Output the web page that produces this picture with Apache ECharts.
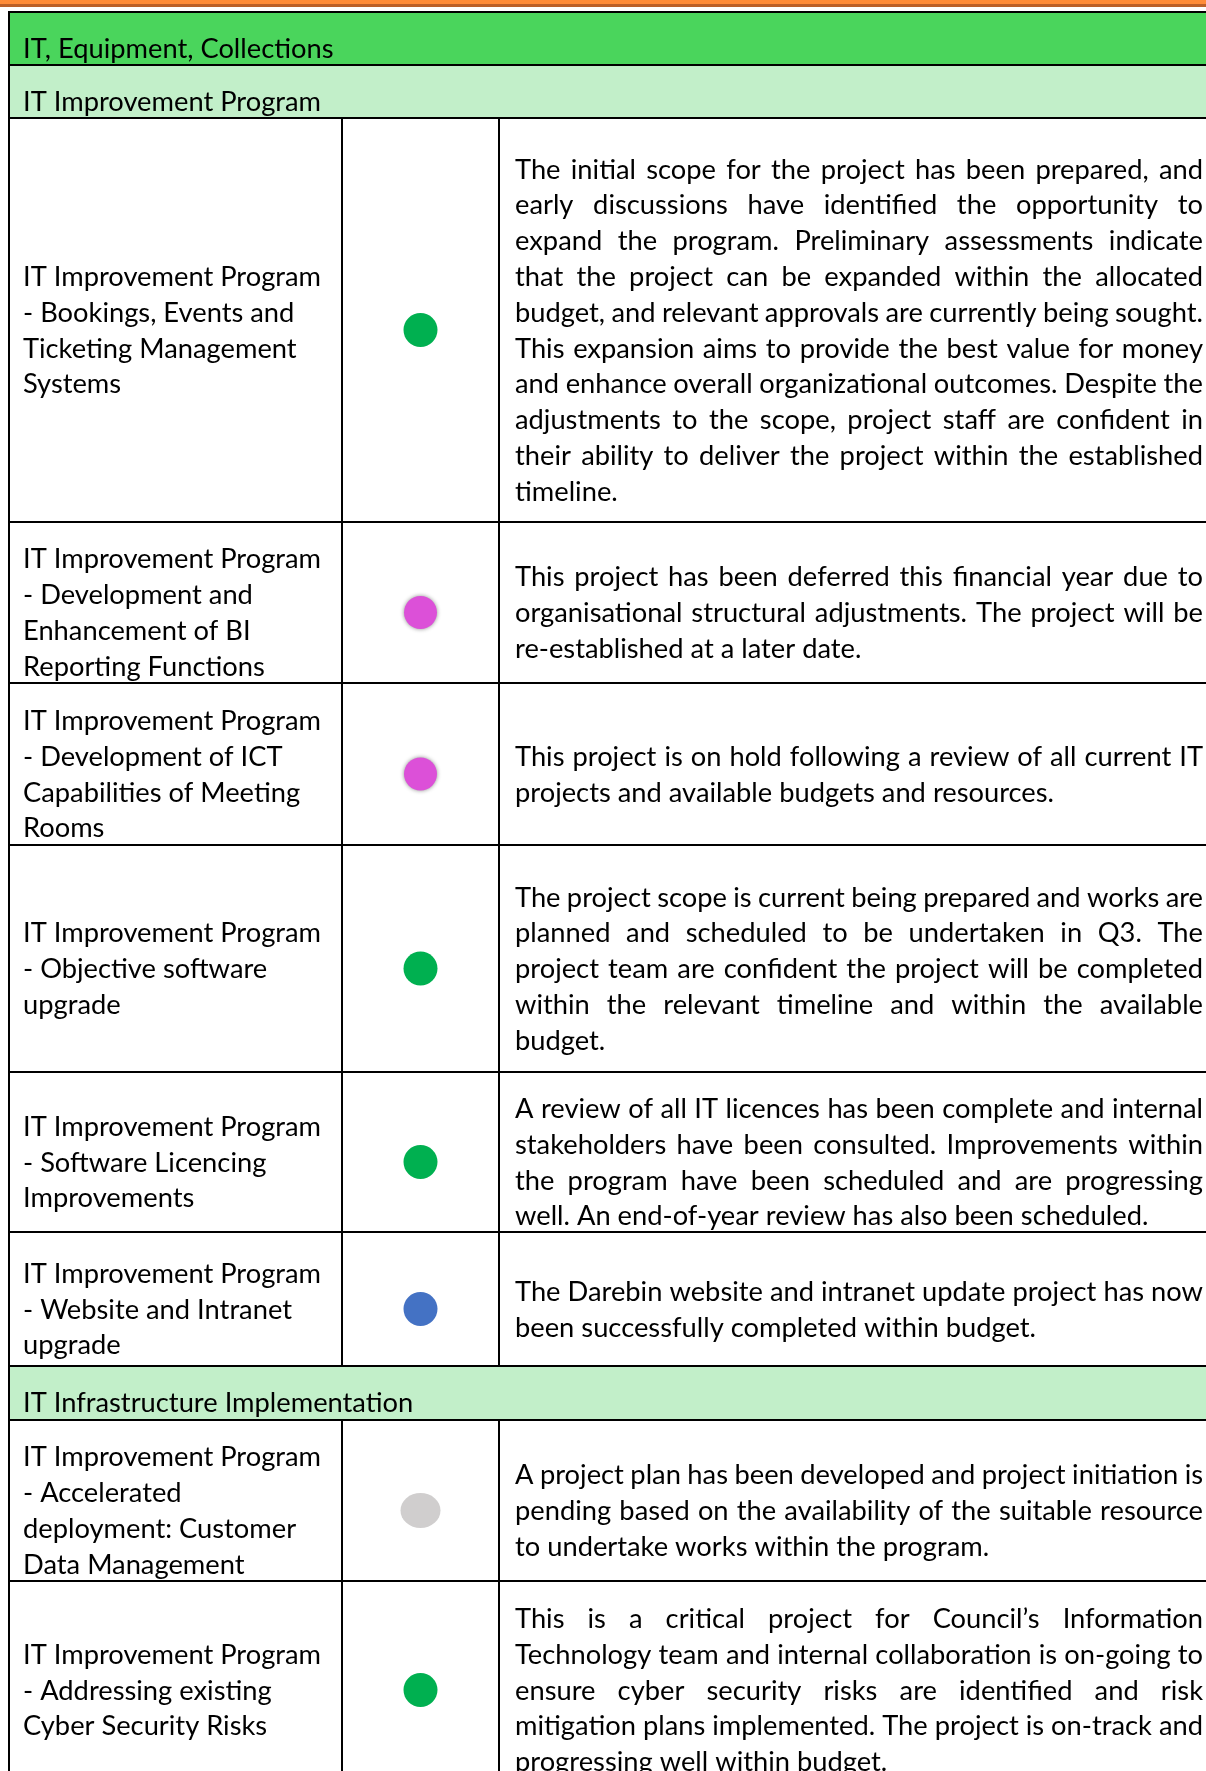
<!DOCTYPE html>
<html><head><meta charset="utf-8">
<script src="https://cdn.jsdelivr.net/npm/echarts@6/dist/echarts.min.js"></script>
<style>html,body{margin:0;padding:0;background:#fff}#c{width:1206px;height:1771px}</style>
</head><body><div id="c"></div>
<script>
// ---------- DATA ----------
const tableTitle = 'IT, Equipment, Collections';
const programNames = ['IT Improvement Program', 'IT Infrastructure Implementation'];
const projectNames = [
  ['IT Improvement Program', '- Bookings, Events and', 'Ticketing Management', 'Systems'],
  ['IT Improvement Program', '- Development and', 'Enhancement of BI', 'Reporting Functions'],
  ['IT Improvement Program', '- Development of ICT', 'Capabilities of Meeting', 'Rooms'],
  ['IT Improvement Program', '- Objective software', 'upgrade'],
  ['IT Improvement Program', '- Software Licencing', 'Improvements'],
  ['IT Improvement Program', '- Website and Intranet', 'upgrade'],
  ['IT Improvement Program', '- Accelerated', 'deployment: Customer', 'Data Management'],
  ['IT Improvement Program', '- Addressing existing', 'Cyber Security Risks']
];
const projectProgram = [0, 0, 0, 0, 0, 0, 1, 1];
const projectStatus = ['On track', 'On hold', 'On hold', 'On track', 'On track', 'Completed', 'Not started', 'On track'];
const projectComments = [
  ['The initial scope for the project has been prepared, and',
   'early discussions have identified the opportunity to',
   'expand the program. Preliminary assessments indicate',
   'that the project can be expanded within the allocated',
   'budget, and relevant approvals are currently being sought.',
   'This expansion aims to provide the best value for money',
   'and enhance overall organizational outcomes. Despite the',
   'adjustments to the scope, project staff are confident in',
   'their ability to deliver the project within the established',
   'timeline.'],
  ['This project has been deferred this financial year due to',
   'organisational structural adjustments. The project will be',
   're-established at a later date.'],
  ['This project is on hold following a review of all current IT',
   'projects and available budgets and resources.'],
  ['The project scope is current being prepared and works are',
   'planned and scheduled to be undertaken in Q3. The',
   'project team are confident the project will be completed',
   'within the relevant timeline and within the available',
   'budget.'],
  ['A review of all IT licences has been complete and internal',
   'stakeholders have been consulted. Improvements within',
   'the program have been scheduled and are progressing',
   'well. An end-of-year review has also been scheduled.'],
  ['The Darebin website and intranet update project has now',
   'been successfully completed within budget.'],
  ['A project plan has been developed and project initiation is',
   'pending based on the availability of the suitable resource',
   'to undertake works within the program.'],
  ['This is a critical project for Council\u2019s Information',
   'Technology team and internal collaboration is on-going to',
   'ensure cyber security risks are identified and risk',
   'mitigation plans implemented. The project is on-track and',
   'progressing well within budget.']
];

// ---------- STYLE / LAYOUT ----------
const STATUS_STYLE = {
  'On track':   { fill: '#00B050', rx: 17, ry: 17 },
  'On hold':    { fill: '#DC50D8', rx: 16.5, ry: 16.5, halo: true },
  'Completed':  { fill: '#4472C4', rx: 17, ry: 17 },
  'Not started':{ fill: '#D0CECE', rx: 20, ry: 17.5 }
};
const ROW_EDGES = [12, 65, 118, 522, 683, 845, 1072, 1232, 1366, 1420, 1581, 1779];
const X_LEFT = 9, X_COL1 = 342, X_COL2 = 499, X_RIGHT = 1206;
const TEXT_X1 = 23, DOT_X = 420.5, TEXT_X3 = 515, TEXT_X3_END = 1203;
const LINE_H = 35.8, TEXT_SHIFT = 10.8, DOT_SHIFT = 10;
const FONT_FAMILY = 'Lato';
const TEXT_COLOR = '#000000';

const mctx = document.createElement('canvas').getContext('2d');
mctx.font = '100px ' + FONT_FAMILY;
const FS = Math.round(100 * 298 / mctx.measureText('IT Improvement Program').width * 10) / 10;
const FONT = FS + 'px ' + FONT_FAMILY;
mctx.font = FONT;
const measure = t => mctx.measureText(t).width;

const tableRows = [{ kind: 'title', text: tableTitle }];
programNames.forEach((p, pi) => {
  tableRows.push({ kind: 'program', text: p });
  projectNames.forEach((n, j) => { if (projectProgram[j] === pi) tableRows.push({ kind: 'project', idx: j }); });
});

function rect(x, y, w, h, fill) {
  return { type: 'rect', shape: { x, y, width: w, height: h }, style: { fill } };
}
function text(t, x, y) {
  return { type: 'text', x, y, style: { text: t, font: FONT, fill: TEXT_COLOR,
    textAlign: 'left', textVerticalAlign: 'middle', align: 'left', verticalAlign: 'middle' } };
}
function justified(line, x0, x1, y, isLast) {
  if (isLast) return [text(line, x0, y)];
  const words = line.split(' ');
  const ws = words.map(measure);
  const total = ws.reduce((a, b) => a + b, 0);
  const gap = (x1 - x0 - total) / (words.length - 1);
  let x = x0;
  return words.map((w, k) => { const el = text(w, x, y); x += ws[k] + gap; return el; });
}

function renderItem(params, api) {
  const i = api.value(0);
  const row = tableRows[i];
  const y0 = api.coord([0, ROW_EDGES[i]])[1];
  const y1 = api.coord([0, ROW_EDGES[i + 1]])[1];
  const px = v => api.coord([v, 0])[0];
  const xL = px(X_LEFT), xR = px(X_RIGHT);
  const mid = (y0 + y1) / 2;
  const ch = [];
  if (row.kind !== 'project') {
    ch.push(rect(xL + 1, y0 + 1, xR - xL, y1 - y0 - 2, row.kind === 'title' ? '#4AD55C' : '#C2EFC9'));
    ch.push(text(row.text, px(TEXT_X1), mid + TEXT_SHIFT - 0.5));
  } else {
    const j = row.idx;
    const names = projectNames[j];
    const tc = mid + TEXT_SHIFT;
    names.forEach((n, k) => ch.push(text(n, px(TEXT_X1), tc + (k - (names.length - 1) / 2) * LINE_H)));
    const st = STATUS_STYLE[projectStatus[j]];
    const dot = { type: 'circle', x: px(DOT_X), y: mid + DOT_SHIFT, scaleX: st.rx / st.ry,
      shape: { cx: 0, cy: 0, r: st.ry }, style: { fill: st.fill } };
    if (st.halo) { dot.style.shadowBlur = 4; dot.style.shadowColor = 'rgba(0,0,0,0.45)'; }
    ch.push(dot);
    const lines = projectComments[j];
    lines.forEach((l, k) => {
      const y = tc + (k - (lines.length - 1) / 2) * LINE_H;
      justified(l, px(TEXT_X3), px(TEXT_X3_END), y, k === lines.length - 1).forEach(e => ch.push(e));
    });
    ch.push(rect(px(X_COL1) - 1, y0 - 1, 2, y1 - y0 + 2, '#000'));
    ch.push(rect(px(X_COL2) - 1, y0 - 1, 2, y1 - y0 + 2, '#000'));
  }
  ch.push(rect(xL - 1, y0 - 1, xR - xL + 1, 2, '#000'));
  if (i === tableRows.length - 1) ch.push(rect(xL - 1, y1 - 1, xR - xL + 1, 2, '#000'));
  ch.push(rect(xL - 1, y0 - 1, 2, y1 - y0 + 2, '#000'));
  return { type: 'group', children: ch };
}

const chart = echarts.init(document.getElementById('c'), null, { renderer: 'canvas' });
chart.setOption({
  animation: false,
  backgroundColor: '#ffffff',
  grid: { left: 0, right: 0, top: 0, bottom: 0 },
  xAxis: { type: 'value', min: 0, max: 1206, show: false },
  yAxis: { type: 'value', min: 0, max: 1771, inverse: true, show: false },
  graphic: [
    { type: 'rect', left: 0, top: 0, shape: { width: 1206, height: 4 }, style: { fill: '#FF8C38' } },
    { type: 'rect', left: 0, top: 4, shape: { width: 1206, height: 3 }, style: { fill: '#BC6028' } }
  ],
  series: [{
    type: 'custom',
    coordinateSystem: 'cartesian2d',
    renderItem,
    clip: false,
    data: tableRows.map((r, i) => [i, i])
  }]
});
</script></body></html>
